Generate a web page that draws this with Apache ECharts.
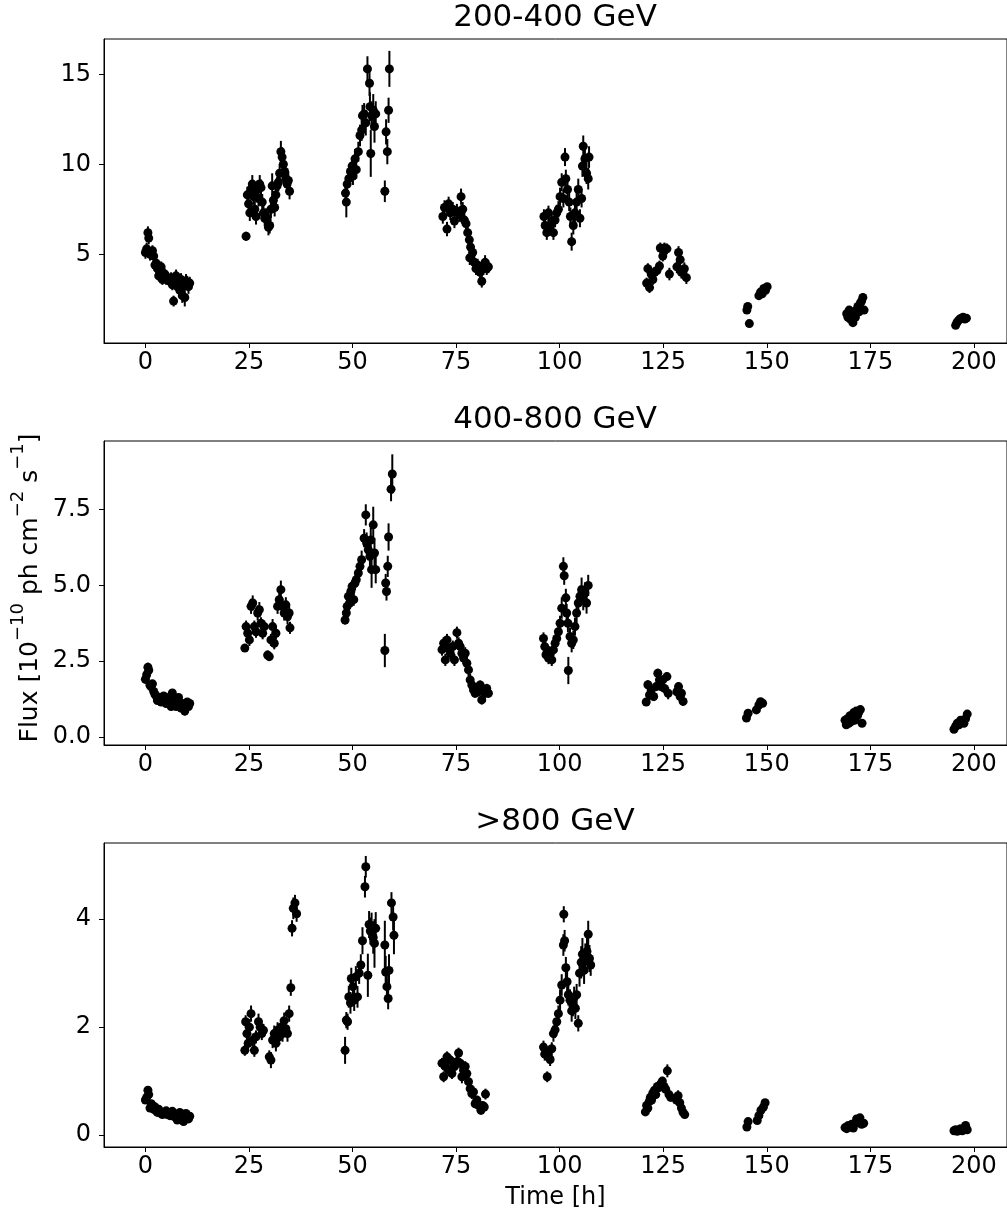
<!DOCTYPE html>
<html>
<head>
<meta charset="utf-8">
<script src="https://cdn.jsdelivr.net/npm/echarts@6/dist/echarts.min.js"></script>
<style>html,body{margin:0;padding:0;background:#fff}#chart{width:1007px;height:1216px}</style>
</head>
<body>
<div id="chart"></div>
<script>
// ---------- data ----------
const panelTitles = ['200-400 GeV', '400-800 GeV', '>800 GeV'];
const xTickValues = [0, 25, 50, 75, 100, 125, 150, 175, 200];
const yTicks200 = [5, 10, 15];
const yTicks400 = [0, 2.5, 5, 7.5];
const yTicks800 = [0, 2, 4];
const xLabel = 'Time [h]';
// each point: [time (h), flux (1e-10 ph cm^-2 s^-1), error]
const flux200to400 = [
[0.0,5.1,0.35],[0.3,5.3,0.35],[0.6,6.2,0.35],[0.8,5.9,0.35],[1.1,5.0,0.35],[1.4,5.1,0.3],[1.7,5.2,0.3],[2.0,4.9,0.3],[2.3,4.4,0.3],[2.6,4.5,0.3],[2.9,4.2,0.3],[3.2,3.8,0.3],[3.5,4.0,0.3],[3.8,4.3,0.3],[4.1,3.6,0.3],[4.4,3.7,0.3],[4.7,3.9,0.3],[5.0,3.6,0.3],[5.3,3.7,0.3],[5.6,3.6,0.3],[5.9,3.5,0.3],[6.2,3.7,0.3],[6.5,3.3,0.3],[6.8,2.4,0.3],[7.1,3.6,0.35],[7.4,3.8,0.35],[7.7,3.2,0.35],[8.0,3.5,0.35],[8.3,3.0,0.4],[8.6,3.6,0.35],[8.9,2.7,0.4],[9.2,3.3,0.4],[9.5,2.6,0.5],[9.8,3.5,0.4],[10.1,3.4,0.4],[10.4,3.2,0.4],[10.7,3.4,0.35],
[24.3,6.0,0.25],[24.6,8.3,0.45],[24.9,7.8,0.45],[25.2,7.3,0.45],[25.5,8.6,0.5],[25.8,8.9,0.5],[26.1,8.2,0.45],[26.4,7.5,0.45],[26.7,7.1,0.45],[27.0,8.6,0.5],[27.3,8.1,0.45],[27.6,8.9,0.5],[27.9,8.7,0.45],[28.2,7.9,0.45],[28.5,7.3,0.45],[28.8,7.0,0.45],[29.1,7.1,0.45],[29.4,6.9,0.45],[29.7,6.5,0.45],[30.0,6.6,0.45],[30.3,7.5,0.5],[30.6,8.8,0.7],[30.9,8.0,0.5],[31.2,7.6,0.5],[31.5,8.3,0.5],[31.8,8.8,0.5],[32.1,9.0,0.5],[32.4,9.5,0.5],[32.7,10.7,0.6],[33.0,10.4,0.55],[33.3,10.0,0.5],[33.6,9.6,0.5],[33.9,9.2,0.5],[34.2,8.9,0.5],[34.5,9.1,0.5],[34.8,8.5,0.45],
[48.3,8.4,0.45],[48.5,7.9,0.85],[48.7,8.9,0.5],[49.1,9.2,0.5],[49.5,9.6,0.5],[49.9,9.9,0.5],[50.1,9.35,0.5],[50.6,10.3,0.55],[50.9,9.7,0.5],[51.4,10.7,0.55],[51.8,11.6,0.6],[52.2,11.9,0.6],[52.4,12.7,0.6],[52.8,12.8,0.6],[53.2,12.3,0.7],[53.6,15.3,0.7],[54.1,14.5,0.7],[54.2,13.2,0.8],[54.4,10.6,1.3],[54.6,12.7,0.8],[55.0,13.0,0.9],[55.3,12.1,0.9],[55.6,12.8,0.7],[57.8,8.5,0.6],[58.1,11.8,0.7],[58.4,10.7,0.7],[58.7,13.0,0.7],[58.9,15.3,1.0],
[71.8,7.1,0.4],[72.2,7.6,0.4],[72.8,6.4,0.4],[73.2,7.8,0.4],[73.6,7.3,0.4],[74.2,7.5,0.4],[74.6,6.85,0.4],[75.2,7.4,0.4],[75.8,7.2,0.4],[76.2,8.2,0.45],[76.6,7.5,0.4],[77.0,6.9,0.4],[77.4,6.7,0.4],[77.8,6.2,0.4],[78.2,5.8,0.4],[78.5,5.4,0.4],[78.3,4.8,0.4],[79.0,5.1,0.4],[79.4,4.55,0.4],[79.8,4.2,0.35],[80.2,4.4,0.35],[80.8,4.0,0.35],[81.2,3.5,0.35],[81.6,4.2,0.35],[82.0,4.55,0.4],[82.4,4.2,0.35],[82.8,4.3,0.35],
[96.2,7.1,0.4],[96.5,6.6,0.4],[96.9,6.2,0.4],[97.3,7.3,0.4],[97.7,6.6,0.4],[98.1,6.85,0.4],[98.5,6.2,0.4],[98.9,6.9,0.4],[99.3,7.3,0.45],[99.7,7.5,0.45],[100.1,8.2,0.5],[100.5,9.0,0.5],[100.9,8.1,0.5],[101.3,10.4,0.5],[101.5,9.2,0.5],[101.9,8.6,0.5],[102.3,7.9,0.5],[102.6,7.1,0.5],[102.9,5.7,0.5],[103.3,6.6,0.5],[103.7,7.3,0.5],[104.1,7.9,0.5],[104.5,8.6,0.6],[104.9,7.0,0.5],[105.3,8.1,0.5],[105.5,9.9,0.6],[105.7,11.0,0.6],[106.1,10.3,0.6],[106.5,9.5,0.6],[106.9,9.2,0.6],[107.1,10.4,0.6],
[121.0,3.4,0.3],[121.3,4.2,0.3],[121.7,3.15,0.3],[122.1,3.9,0.3],[122.5,3.6,0.3],[122.9,4.0,0.3],[123.5,4.1,0.3],[124.1,4.35,0.3],[124.3,5.35,0.3],[124.9,4.9,0.3],[125.3,5.35,0.3],[125.9,5.3,0.3],[126.5,3.9,0.35],[128.3,4.3,0.35],[128.7,5.1,0.35],[129.1,4.7,0.35],[129.4,4.0,0.35],[130.1,4.2,0.35],[130.6,3.7,0.35],
[145.2,1.9,0.15],[145.4,2.1,0.15],[145.8,1.15,0.2],[148.1,2.7,0.15],[148.5,2.9,0.15],[148.9,2.8,0.15],[149.3,3.1,0.15],[149.7,3.0,0.15],[150.1,3.2,0.15],
[169.3,1.7,0.15],[169.6,1.5,0.15],[169.9,1.9,0.15],[170.2,1.4,0.15],[170.5,1.6,0.15],[170.8,1.2,0.15],[171.1,1.8,0.15],[171.4,1.5,0.15],[171.7,1.9,0.15],[172.0,2.1,0.2],[172.3,1.8,0.15],[172.6,2.3,0.2],[172.9,2.4,0.2],[173.2,2.6,0.25],[173.5,1.9,0.15],
[195.6,1.05,0.12],[195.9,1.2,0.12],[196.2,1.3,0.12],[196.6,1.4,0.12],[197.0,1.45,0.12],[197.4,1.5,0.12],[197.8,1.4,0.12],[198.2,1.45,0.12]
];
const flux400to800 = [
[0.0,1.9,0.15],[0.3,2.05,0.15],[0.6,2.3,0.15],[0.8,2.2,0.15],[1.1,1.7,0.15],[1.4,1.65,0.12],[1.7,1.75,0.12],[2.0,1.5,0.12],[2.3,1.4,0.12],[2.6,1.35,0.12],[2.9,1.2,0.12],[3.2,1.3,0.12],[3.5,1.25,0.12],[3.8,1.15,0.12],[4.1,1.3,0.12],[4.4,1.35,0.12],[4.7,1.2,0.12],[5.0,1.1,0.12],[5.3,1.25,0.12],[5.6,1.3,0.12],[5.9,1.15,0.12],[6.2,1.0,0.12],[6.5,1.45,0.12],[6.8,1.2,0.12],[7.1,1.1,0.12],[7.4,1.0,0.12],[7.7,1.15,0.12],[8.0,1.3,0.12],[8.3,1.05,0.12],[8.6,0.95,0.12],[8.9,1.1,0.12],[9.2,1.0,0.12],[9.5,0.85,0.15],[9.8,1.05,0.12],[10.1,1.15,0.12],[10.4,1.0,0.12],[10.7,1.1,0.12],
[24.0,2.93,0.12],[24.3,3.64,0.2],[24.7,3.42,0.2],[25.1,3.2,0.2],[25.5,4.31,0.25],[25.9,4.42,0.25],[26.3,3.64,0.2],[26.7,3.47,0.2],[27.1,4.09,0.25],[27.5,4.2,0.25],[27.9,3.75,0.2],[28.3,3.42,0.2],[28.7,3.64,0.2],[29.5,2.7,0.15],[29.9,2.65,0.15],[30.3,3.2,0.2],[30.7,3.64,0.25],[31.1,3.09,0.2],[31.5,3.42,0.2],[31.9,4.31,0.25],[32.3,4.53,0.25],[32.7,4.86,0.3],[33.1,4.31,0.25],[33.5,4.09,0.25],[33.9,4.36,0.25],[34.3,3.97,0.25],[34.7,4.09,0.25],[34.9,3.6,0.2],
[48.2,3.86,0.15],[48.5,4.09,0.2],[48.7,4.31,0.2],[49.0,4.64,0.2],[49.3,4.42,0.2],[49.6,4.8,0.2],[49.9,4.97,0.2],[50.3,4.53,0.2],[50.6,5.08,0.25],[50.9,5.19,0.25],[51.4,5.41,0.25],[51.8,5.63,0.25],[52.2,5.85,0.3],[52.8,6.56,0.3],[53.2,7.33,0.35],[53.4,6.4,0.35],[53.8,6.18,0.35],[54.2,5.96,0.4],[54.4,6.5,0.4],[54.6,5.52,0.6],[55.0,7.0,0.6],[55.3,6.07,0.5],[55.6,5.52,0.45],[57.8,2.85,0.55],[58.0,5.08,0.3],[58.2,4.8,0.3],[58.5,5.63,0.35],[58.7,6.6,0.45],[59.3,8.18,0.4],[59.6,8.68,0.65],
[71.6,2.88,0.2],[72.0,3.09,0.2],[72.4,2.54,0.2],[72.8,3.2,0.2],[73.2,2.93,0.2],[73.6,2.76,0.2],[74.2,2.98,0.2],[74.6,2.54,0.2],[75.2,3.44,0.2],[75.6,3.09,0.2],[76.0,2.98,0.2],[76.4,2.76,0.2],[76.8,2.6,0.2],[77.2,2.76,0.2],[77.6,2.43,0.2],[78.0,2.21,0.2],[78.4,1.88,0.2],[78.8,1.71,0.2],[79.2,1.55,0.2],[79.6,1.44,0.15],[80.0,1.6,0.15],[80.4,1.49,0.15],[80.8,1.71,0.15],[81.2,1.22,0.15],[81.6,1.55,0.15],[82.0,1.44,0.15],[82.4,1.6,0.15],[82.8,1.44,0.15],
[96.1,3.25,0.2],[96.4,2.98,0.2],[96.7,2.71,0.2],[97.0,2.87,0.2],[97.3,2.6,0.2],[97.7,2.76,0.2],[98.1,2.54,0.2],[98.5,2.87,0.2],[98.9,3.09,0.2],[99.3,3.25,0.2],[99.7,3.47,0.2],[100.1,3.75,0.25],[100.5,4.25,0.35],[100.9,5.63,0.3],[101.1,5.32,0.3],[101.5,4.59,0.3],[101.7,4.09,0.3],[102.0,3.75,0.3],[102.1,2.19,0.45],[102.5,3.31,0.3],[102.9,3.09,0.3],[103.3,3.2,0.3],[103.7,3.64,0.3],[104.1,4.09,0.35],[104.5,4.42,0.35],[104.9,4.64,0.35],[105.3,4.86,0.4],[105.7,4.53,0.35],[106.1,4.75,0.35],[106.5,4.42,0.35],[106.9,5.0,0.35],
[120.9,1.15,0.12],[121.3,1.72,0.15],[121.7,1.38,0.15],[122.1,1.55,0.15],[122.7,1.33,0.15],[123.3,1.66,0.15],[123.7,2.1,0.15],[124.1,1.88,0.15],[124.5,1.66,0.15],[124.9,1.88,0.15],[125.3,1.6,0.15],[125.9,1.99,0.15],[126.2,1.44,0.2],[128.3,1.49,0.15],[128.7,1.66,0.15],[129.1,1.33,0.15],[129.4,1.44,0.15],[129.8,1.17,0.15],
[145.1,0.62,0.08],[145.5,0.78,0.1],[147.5,0.89,0.08],[148.1,1.05,0.08],[148.5,1.16,0.08],[149.0,1.11,0.08],
[168.9,0.55,0.08],[169.2,0.4,0.08],[169.5,0.6,0.08],[169.8,0.45,0.08],[170.1,0.7,0.08],[170.4,0.5,0.08],[170.7,0.65,0.08],[171.0,0.8,0.08],[171.3,0.55,0.08],[171.6,0.85,0.08],[171.9,0.7,0.08],[172.2,0.8,0.08],[172.6,0.9,0.08],[173.0,0.45,0.08],
[195.2,0.25,0.06],[195.6,0.35,0.06],[196.0,0.45,0.06],[196.4,0.4,0.06],[196.8,0.55,0.08],[197.2,0.5,0.06],[197.6,0.45,0.06],[198.0,0.6,0.08],[198.4,0.75,0.1]
];
const fluxAbove800 = [
[0.0,0.65,0.06],[0.3,0.7,0.06],[0.6,0.83,0.06],[0.8,0.75,0.06],[1.1,0.5,0.05],[1.4,0.58,0.05],[1.7,0.55,0.05],[2.0,0.48,0.05],[2.3,0.52,0.05],[2.6,0.45,0.05],[2.9,0.42,0.05],[3.2,0.48,0.05],[3.5,0.44,0.05],[3.8,0.4,0.05],[4.1,0.38,0.05],[4.4,0.42,0.05],[4.7,0.4,0.05],[5.0,0.45,0.05],[5.3,0.38,0.05],[5.6,0.42,0.05],[5.9,0.36,0.05],[6.2,0.4,0.05],[6.5,0.44,0.06],[6.8,0.35,0.05],[7.1,0.38,0.05],[7.4,0.32,0.05],[7.7,0.28,0.05],[8.0,0.35,0.05],[8.3,0.42,0.06],[8.6,0.3,0.05],[8.9,0.38,0.05],[9.2,0.25,0.06],[9.5,0.33,0.05],[9.8,0.4,0.05],[10.1,0.36,0.05],[10.4,0.3,0.05],[10.7,0.35,0.05],
[24.0,1.57,0.1],[24.2,2.1,0.12],[24.5,1.88,0.12],[24.8,1.7,0.12],[25.1,2.0,0.15],[25.5,2.25,0.15],[25.9,1.76,0.12],[26.3,1.57,0.12],[26.7,1.82,0.12],[27.3,2.1,0.15],[27.7,2.0,0.12],[28.1,1.88,0.12],[28.5,1.94,0.12],[29.9,1.45,0.12],[30.3,1.39,0.15],[30.7,1.76,0.15],[31.1,1.88,0.15],[31.5,1.7,0.15],[31.9,1.94,0.15],[32.3,1.82,0.15],[32.7,2.0,0.15],[33.1,1.88,0.15],[33.5,2.12,0.15],[33.9,1.97,0.15],[34.3,1.88,0.15],[34.7,2.25,0.15],[35.1,2.73,0.15],[35.4,3.83,0.15],[35.7,4.2,0.2],[36.1,4.3,0.15],[36.5,4.1,0.15],
[48.2,1.57,0.25],[48.5,2.13,0.15],[48.8,2.1,0.15],[49.1,2.56,0.2],[49.5,2.45,0.2],[49.7,2.9,0.2],[50.1,2.75,0.2],[50.4,2.5,0.2],[50.8,2.93,0.2],[51.2,2.56,0.2],[51.6,3.0,0.2],[52.0,3.15,0.2],[52.4,3.6,0.25],[53.0,4.6,0.2],[53.2,4.97,0.2],[53.7,2.96,0.4],[54.0,3.9,0.25],[54.3,3.78,0.25],[54.6,3.87,0.25],[55.0,3.66,0.3],[55.3,3.55,0.45],[55.6,3.83,0.3],[57.8,3.52,0.45],[58.0,3.02,0.3],[58.3,2.75,0.25],[58.6,2.53,0.2],[58.8,3.05,0.3],[59.4,4.3,0.2],[59.8,4.04,0.25],[60.0,3.7,0.35],
[71.6,1.33,0.1],[72.0,1.08,0.1],[72.4,1.27,0.1],[72.8,1.45,0.1],[73.2,1.2,0.1],[73.6,1.39,0.1],[74.0,1.14,0.1],[74.6,1.27,0.1],[75.2,1.36,0.1],[75.6,1.52,0.1],[76.0,1.33,0.1],[76.4,1.08,0.12],[76.8,1.2,0.1],[77.2,1.27,0.1],[77.6,1.14,0.1],[78.0,0.99,0.1],[78.4,0.86,0.1],[78.8,0.77,0.1],[79.2,0.8,0.1],[79.6,0.58,0.08],[80.0,0.65,0.08],[80.4,0.55,0.08],[81.0,0.46,0.08],[81.4,0.55,0.08],[81.8,0.52,0.08],[82.1,0.76,0.1],
[96.1,1.63,0.12],[96.4,1.5,0.12],[96.7,1.55,0.12],[97.0,1.08,0.1],[97.3,1.45,0.12],[97.7,1.4,0.12],[98.1,1.6,0.12],[98.5,1.88,0.15],[98.9,1.95,0.15],[99.3,2.1,0.15],[99.7,2.25,0.15],[100.1,2.5,0.2],[100.5,2.78,0.2],[100.9,3.52,0.2],[101.0,4.09,0.15],[101.2,3.6,0.2],[101.5,3.1,0.2],[101.8,2.84,0.2],[102.1,2.6,0.2],[102.5,2.5,0.2],[102.9,2.3,0.2],[103.2,2.4,0.2],[103.5,2.55,0.2],[103.8,2.35,0.2],[104.1,2.6,0.2],[104.5,2.07,0.15],[104.8,3.0,0.25],[105.2,3.2,0.3],[105.5,3.35,0.3],[105.9,3.05,0.25],[106.2,3.3,0.25],[106.6,3.4,0.25],[106.9,3.72,0.25],[107.2,3.27,0.25],[107.5,3.15,0.2],
[120.7,0.43,0.06],[121.0,0.55,0.06],[121.3,0.5,0.06],[121.6,0.62,0.08],[121.9,0.7,0.08],[122.2,0.65,0.08],[122.5,0.78,0.08],[122.9,0.83,0.08],[123.2,0.75,0.08],[123.6,0.9,0.08],[124.0,0.88,0.08],[124.4,0.95,0.08],[124.8,1.0,0.08],[125.2,0.9,0.08],[125.6,0.85,0.08],[126.0,1.19,0.12],[126.4,0.75,0.08],[126.8,0.7,0.08],[128.2,0.65,0.08],[128.6,0.73,0.1],[129.0,0.6,0.08],[129.4,0.5,0.08],[129.8,0.42,0.06],[130.2,0.38,0.06],
[145.2,0.15,0.04],[145.5,0.25,0.05],[147.7,0.27,0.04],[148.1,0.36,0.05],[148.6,0.46,0.05],[149.2,0.52,0.05],[149.6,0.6,0.05],
[168.9,0.14,0.03],[169.3,0.12,0.03],[169.7,0.18,0.03],[170.1,0.15,0.03],[170.5,0.2,0.03],[170.9,0.13,0.03],[171.3,0.22,0.04],[171.7,0.3,0.04],[172.1,0.25,0.04],[172.5,0.32,0.04],[172.9,0.2,0.04],[173.4,0.22,0.04],
[195.2,0.08,0.03],[195.6,0.1,0.03],[196.0,0.07,0.03],[196.4,0.09,0.03],[196.8,0.12,0.03],[197.2,0.08,0.03],[197.6,0.1,0.03],[198.0,0.18,0.04],[198.4,0.1,0.03]
];

// ---------- layout / style ----------
const FONT = 'DejaVu Sans';
const panels = [
  {data: flux200to400, ticks: yTicks200, min: 0.07, max: 16.96, top: 39, fmt: v => String(v)},
  {data: flux400to800, ticks: yTicks400, min: -0.27, max: 9.77, top: 441, fmt: v => v.toFixed(1)},
  {data: fluxAbove800, ticks: yTicks800, min: -0.22, max: 5.41, top: 843, fmt: v => String(v)}
];
const GRID_LEFT = 104, GRID_W = 906, GRID_H = 304;

const grids = [], xAxes = [], yAxes = [], series = [], titles = [];
panels.forEach((p, i) => {
  grids.push({left: GRID_LEFT, top: p.top, width: GRID_W, height: GRID_H, show: true,
    borderColor: '#000', borderWidth: 1, backgroundColor: 'rgba(0,0,0,0)', containLabel: false});
  xAxes.push({type: 'value', gridIndex: i, min: -10, max: 208,
    axisLine: {show: true, onZero: false, lineStyle: {color: '#000', width: 1}},
    axisTick: {show: true, length: 5, customValues: xTickValues, lineStyle: {color: '#000', width: 1}},
    axisLabel: {customValues: xTickValues, fontSize: 24, fontFamily: FONT, color: '#000', margin: 8},
    splitLine: {show: false},
    name: i === 2 ? xLabel : '', nameLocation: 'middle', nameGap: 39,
    nameTextStyle: {fontSize: 24, fontFamily: FONT, color: '#000'}
  });
  yAxes.push({type: 'value', gridIndex: i, min: p.min, max: p.max,
    axisLine: {show: true, onZero: false, lineStyle: {color: '#000', width: 1}},
    axisTick: {show: true, length: 5, customValues: p.ticks, lineStyle: {color: '#000', width: 1}},
    axisLabel: {customValues: p.ticks, formatter: p.fmt, fontSize: 24, fontFamily: FONT, color: '#000', margin: 13},
    splitLine: {show: false}
  });
  titles.push({text: panelTitles[i], left: 555, top: p.top - 37, textAlign: 'center', padding: 0,
    textStyle: {fontSize: 31, fontWeight: 'normal', fontFamily: FONT, color: '#000'}});
  series.push({type: 'custom', xAxisIndex: i, yAxisIndex: i, data: p.data, z: 2, clip: true,
    encode: {x: 0, y: 1},
    renderItem: function (params, api) {
      const t = api.value(0), v = api.value(1), e = api.value(2);
      const a = api.coord([t, v - e]), b = api.coord([t, v + e]);
      return {type: 'line', shape: {x1: a[0], y1: a[1], x2: b[0], y2: b[1]},
        style: {stroke: '#000', lineWidth: 2}};
    }
  });
  series.push({type: 'scatter', xAxisIndex: i, yAxisIndex: i, data: p.data.map(d => [d[0], d[1]]),
    symbol: 'circle', symbolSize: 9, itemStyle: {color: '#000', opacity: 1}, z: 3});
});

const chart = echarts.init(document.getElementById('chart'), null, {renderer: 'canvas'});
chart.setOption({
  animation: false,
  backgroundColor: '#fff',
  title: titles,
  grid: grids,
  xAxis: xAxes,
  yAxis: yAxes,
  series: series,
  graphic: [{
    type: 'text', x: 26, y: 588, rotation: Math.PI / 2,
    style: {
      text: '{n|Flux [10}{s|−10}{n| ph cm}{s|−2}{n| s}{s|−1}{n|]}',
      align: 'center', verticalAlign: 'middle', fill: '#000',
      rich: {
        n: {fontSize: 25, fontFamily: FONT, fill: '#000', lineHeight: 33, verticalAlign: 'bottom'},
        s: {fontSize: 18, fontFamily: FONT, fill: '#000', lineHeight: 33, verticalAlign: 'top'}
      }
    }
  }]
});
</script>
</body>
</html>
